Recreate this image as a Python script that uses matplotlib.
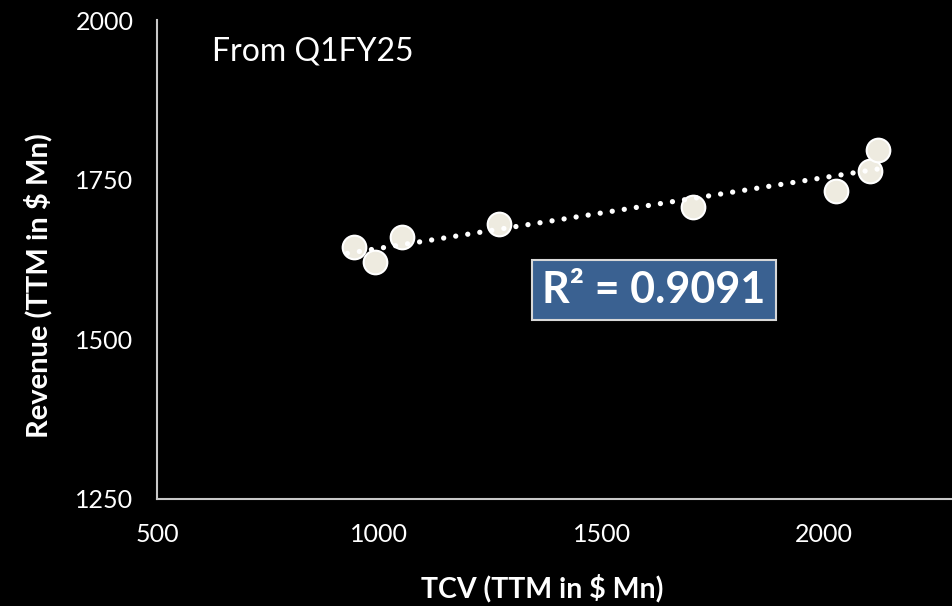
import numpy as np
import matplotlib
matplotlib.use("Agg")
import matplotlib.pyplot as plt

tcv = [943, 991, 1052, 1269, 1705, 2027, 2104, 2122]
revenue = [1645, 1621, 1661, 1681, 1707, 1732, 1764, 1796]
x_ticks = [500, 1000, 1500, 2000]
y_ticks = [1250, 1500, 1750, 2000]
r2_label = "R² = 0.9091"
period_label = "From Q1FY25"

plt.rcParams['font.family'] = ['Lato', 'DejaVu Sans']

fig = plt.figure(figsize=(9.53, 6.06), dpi=100, facecolor='black')
ax = fig.add_axes([157/953, 107/606, 1 - 157/953, (499-20)/606])
ax.set_facecolor('black')

ax.scatter(tcv, revenue, s=290, facecolor='#EEEBE0', edgecolor='white', linewidth=1.5, zorder=3)

coef = np.polyfit(tcv, revenue, 1)
xs = np.array([min(tcv) - 15, max(tcv)])
ax.plot(xs, np.polyval(coef, xs), color='white', lw=3.8, linestyle=(0, (0.01, 2.3)),
        dash_capstyle='round', zorder=4)

ax.set_xlim(500, 2290)
ax.set_ylim(1250, 2000)
ax.set_xticks(x_ticks)
ax.set_yticks(y_ticks)
ax.tick_params(length=0, colors='white', labelsize=18, pad=17)
for s in ['top', 'right']:
    ax.spines[s].set_visible(False)
for s in ['left', 'bottom']:
    ax.spines[s].set_color('#C8C8C8')
    ax.spines[s].set_linewidth(1.5)

ax.set_xlabel("TCV (TTM in $ Mn)", color='white', fontsize=20.5, fontweight='bold', va='center')
ax.xaxis.set_label_coords(0.484, -0.186)
ax.set_ylabel("Revenue (TTM in $ Mn)", color='white', fontsize=21, fontweight='bold', va='center')
ax.yaxis.set_label_coords(-0.1495, 0.445)

ax.text(0.069, 0.935, period_label, transform=ax.transAxes, color='white', fontsize=23,
        ha='left', va='center')

ax.text(1618, 1577, r2_label, color='white', fontsize=31, fontweight='bold', ha='center', va='center',
        bbox=dict(boxstyle='square,pad=0.24', facecolor='#3A6191', edgecolor='#D8D8D8', linewidth=1.5),
        zorder=5)

fig.savefig('out.png', dpi=100, facecolor='black')
